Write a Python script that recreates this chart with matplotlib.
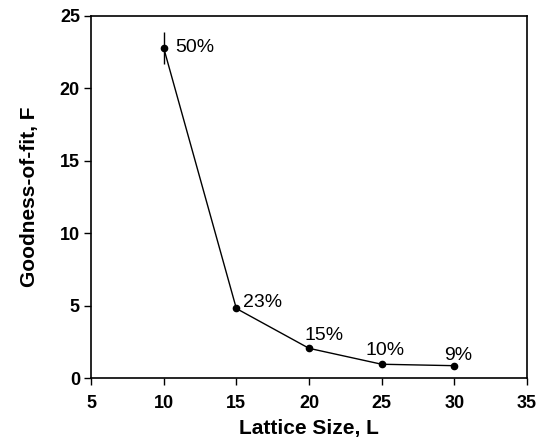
import matplotlib
matplotlib.use("Agg")
import matplotlib.pyplot as plt

plt.rcParams['font.family'] = ['Liberation Sans', 'DejaVu Sans']

lattice = [10, 15, 20, 25, 30]
fit = [22.8, 4.8, 2.05, 0.95, 0.85]
err = [1.1, 0.0, 0.0, 0.0, 0.0]
labels = ["50%", "23%", "15%", "10%", "9%"]
offsets = [(8, 0), (5, 4), (-3, 9), (-12, 10), (-7, 7)]

fig = plt.figure(figsize=(5.45, 4.4), dpi=100)
ax = fig.add_axes([91/545, 1-378/440, (527-91)/545, (378-16)/440])

ax.errorbar(lattice, fit, yerr=err, fmt='-o', color='black', lw=1.0,
            ms=4.5, elinewidth=1.0, capsize=0)
for x, y, t, off in zip(lattice, fit, labels, offsets):
    ax.annotate(t, (x, y), xytext=off, textcoords='offset points',
                ha='left', va='center', fontsize=14)

ax.set_xlim(5, 35)
ax.set_ylim(0, 25)
ax.set_xticks([5, 10, 15, 20, 25, 30, 35])
ax.set_yticks([0, 5, 10, 15, 20, 25])
ax.tick_params(direction='out', length=5, width=1, labelsize=13)
ax.tick_params(axis='x', pad=7)
ax.tick_params(axis='y', pad=3)
for lab in ax.get_xticklabels() + ax.get_yticklabels():
    lab.set_fontweight('bold')
for s in ax.spines.values():
    s.set_linewidth(1.2)
ax.set_xlabel("Lattice Size, L", fontsize=15, fontweight='bold', labelpad=5)
ax.set_ylabel("Goodness-of-fit, F", fontsize=15, fontweight='bold', labelpad=15)

fig.savefig("out.png", dpi=100)
